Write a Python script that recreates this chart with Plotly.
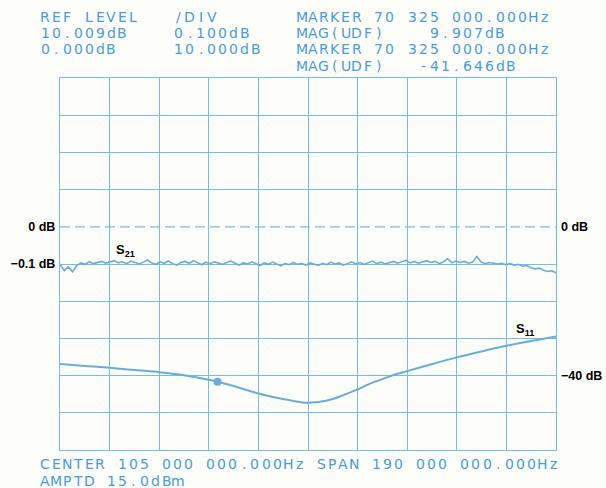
import plotly.graph_objects as go
import numpy as np

# Sweep: center 105 MHz, span 190 MHz
start_mhz = 10
stop_mhz = 200
div_mhz = 19

# S21 transmission (dB), 120 sweep points
s21_db = [
    -0.100, -0.118, -0.108, -0.121, -0.104, -0.097, -0.101, -0.094, -0.099, -0.096,
    -0.093, -0.098, -0.095, -0.091, -0.097, -0.094, -0.099, -0.092, -0.096, -0.100,
    -0.095, -0.089, -0.097, -0.101, -0.094, -0.098, -0.092, -0.099, -0.103, -0.096,
    -0.093, -0.098, -0.091, -0.097, -0.102, -0.095, -0.099, -0.094, -0.097, -0.101,
    -0.096, -0.092, -0.098, -0.103, -0.097, -0.100, -0.094, -0.099, -0.104, -0.097,
    -0.101, -0.095, -0.100, -0.105, -0.098, -0.102, -0.096, -0.101, -0.099, -0.103,
    -0.097, -0.101, -0.104, -0.098, -0.102, -0.095, -0.100, -0.097, -0.103, -0.099,
    -0.094, -0.100, -0.096, -0.101, -0.097, -0.092, -0.099, -0.095, -0.100, -0.096,
    -0.093, -0.098, -0.094, -0.090, -0.097, -0.093, -0.098, -0.095, -0.091, -0.096,
    -0.093, -0.099, -0.094, -0.086, -0.097, -0.092, -0.096, -0.093, -0.098, -0.095,
    -0.080, -0.094, -0.099, -0.096, -0.097, -0.100, -0.098, -0.102, -0.099, -0.103,
    -0.101, -0.106, -0.104, -0.110, -0.113, -0.111, -0.117, -0.120, -0.118, -0.124,
]
s21_freq = np.linspace(start_mhz, stop_mhz, len(s21_db))

# S11 return loss (dB)
s11_freq = [10, 19.5, 29, 38.5, 48, 57.5, 67, 70.325, 76.5, 86, 95.5, 100, 104.5,
            109, 114.5, 119, 124, 129, 134, 138.5, 143, 152, 162, 171.5, 181, 190.5, 200]
s11_db = [-36.9, -37.4, -37.9, -38.5, -39.1, -39.9, -41.1, -41.646, -42.8, -44.8,
          -46.3, -46.9, -47.3, -47.1, -46.3, -45.1, -43.7, -42.1, -40.8, -39.7,
          -38.8, -37.0, -35.1, -33.5, -32.0, -30.7, -29.5]

marker_freq = 70.325
marker_s11 = -41.646

# Printed header / footer text
header_col1 = ["REF LEVEL", "10.009dB", "0.000dB"]
header_col2 = ["/DIV", "0.100dB", "10.000dB"]
header_col3 = ["MARKER 70 325 000.000Hz", "MAG(UDF)    9.907dB",
               "MARKER 70 325 000.000Hz", "MAG(UDF)   -41.646dB"]
footer = ["CENTER 105 000 000.000Hz SPAN 190 000 000.000Hz", "AMPTD 15.0dBm"]

GRID = "#72bfe2"
TRACE = "#69acd6"
TEXT = "#4a9cd4"
BG = "#fdfdfa"

W, H = 606, 488
L, R, T, B = 60, 50, 78, 38
PW, PH = W - L - R, H - T - B

fig = go.Figure()

fig.add_trace(go.Scatter(x=s21_freq, y=s21_db, mode="lines",
                         line=dict(color=TRACE, width=1.6), yaxis="y"))
fig.add_trace(go.Scatter(x=s11_freq, y=s11_db, mode="lines",
                         line=dict(color=TRACE, width=2, shape="spline", smoothing=0.8),
                         yaxis="y2"))
fig.add_trace(go.Scatter(x=[marker_freq], y=[marker_s11], mode="markers",
                         marker=dict(color=TRACE, size=8), yaxis="y2"))

# dashed 0 dB reference line
fig.add_shape(type="line", xref="paper", x0=0, x1=1, yref="y", y0=0, y1=0,
              line=dict(color=GRID, width=1.3, dash="10px,5px"))

fig.add_annotation(x=35, y=-0.065, xref="x", yref="y", text="<b>S<sub>21</sub></b>",
                   showarrow=False, font=dict(family="Liberation Sans", size=13, color="black"))
fig.add_annotation(x=188, y=-27.5, xref="x", yref="y2", text="<b>S<sub>11</sub></b>",
                   showarrow=False, font=dict(family="Liberation Sans", size=13, color="black"))


def add_plotter_text(x0, y, text, pitch=11.05):
    # plotter font: fixed pitch, one glyph per cell
    for i, ch in enumerate(text):
        if ch == " ":
            continue
        fig.add_annotation(x=(x0 + i * pitch + 4.5 - L) / PW, y=(T + PH - y) / PH,
                           xref="paper", yref="paper", text=ch, showarrow=False,
                           xanchor="center", yanchor="middle",
                           font=dict(family="DejaVu Sans", size=14, color=TEXT))


rows_y = [16.5, 33, 49.5, 66]
for i, s in enumerate(header_col1):
    add_plotter_text(40.5, rows_y[i], s)
for i, s in enumerate(header_col2):
    add_plotter_text(174, rows_y[i], s)
for i, s in enumerate(header_col3):
    add_plotter_text(297, rows_y[i], s)
add_plotter_text(40.5, 464, footer[0])
add_plotter_text(40.5, 480.5, footer[1])

grid_divs = [-0.6, -0.5, -0.4, -0.3, -0.2, -0.1, 0.1, 0.2, 0.3, 0.4]
label_font = dict(family="Liberation Sans", size=12.5, color="black", weight="bold")

fig.update_layout(
    width=W, height=H,
    margin=dict(l=L, r=R, t=T, b=B, pad=0, autoexpand=False),
    paper_bgcolor=BG, plot_bgcolor=BG,
    showlegend=False,
    xaxis=dict(range=[start_mhz, stop_mhz], tickmode="linear", tick0=start_mhz, dtick=div_mhz,
               showticklabels=False, showgrid=True, gridcolor=GRID, gridwidth=1.2,
               showline=True, linecolor=GRID, linewidth=1.2, mirror=True, zeroline=False,
               automargin=False),
    yaxis=dict(range=[-0.6, 0.4], tickvals=[0, -0.1], ticktext=["0 dB", "\u22120.1 dB"],
               tickfont=label_font, showgrid=False, zeroline=False, automargin=False,
               ticklabelstandoff=1,
               minor=dict(tickvals=grid_divs, showgrid=True, gridcolor=GRID, gridwidth=1.2),
               showline=True, linecolor=GRID, linewidth=1.2, mirror=True, ticks=""),
    yaxis2=dict(range=[-60, 40], overlaying="y", side="right", automargin=False,
                tickvals=[0, -40], ticktext=["0 dB", "\u221240 dB"], tickfont=label_font,
                showgrid=False, zeroline=False, ticks="", ticklabelstandoff=4,
                minor=dict(tickvals=[v * 100 for v in grid_divs], showgrid=True,
                           gridcolor=GRID, gridwidth=1.2)),
)

# page body has a default 8px margin; drop it so the figure fills the window
fig.write_html("out.html", config={"displayModeBar": False},
               post_script="document.body.style.margin='0';")
